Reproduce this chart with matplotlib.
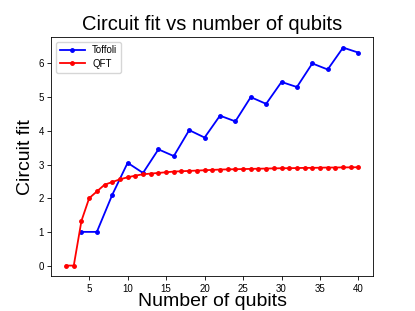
import matplotlib
matplotlib.use("Agg")
import matplotlib.pyplot as plt

plt.rcParams['font.family'] = ['Liberation Sans', 'DejaVu Sans']

# Toffoli circuit fit (even qubit counts)
toffoli_n = [4, 6, 8, 10, 12, 14, 16, 18, 20, 22, 24, 26, 28, 30, 32, 34, 36, 38, 40]
toffoli_fit = [1.0, 1.0, 2.1, 3.05, 2.75, 3.45, 3.25, 4.02, 3.8, 4.45, 4.28,
               5.0, 4.8, 5.45, 5.3, 6.0, 5.82, 6.47, 6.32]

# QFT circuit fit
qft_n = list(range(2, 41))
qft_fit = [0.0, 0.0, 1.33, 2.0, 2.2, 2.4, 2.48, 2.56, 2.62, 2.67, 2.71, 2.73,
           2.75, 2.77, 2.79, 2.80, 2.81, 2.82, 2.83, 2.84, 2.85, 2.855, 2.86,
           2.865, 2.87, 2.875, 2.88, 2.885, 2.89, 2.89, 2.895, 2.90, 2.90,
           2.905, 2.91, 2.91, 2.915, 2.915, 2.92]

fig = plt.figure(figsize=(4.15, 3.11), dpi=100)
ax = fig.add_axes([0.124, 0.111, 0.775, 0.771])

ax.plot(toffoli_n, toffoli_fit, color='blue', marker='o', markersize=2.5, linewidth=1.3, label='Toffoli')
ax.plot(qft_n, qft_fit, color='red', marker='o', markersize=2.5, linewidth=1.3, label='QFT')

ax.set_title('Circuit fit vs number of qubits', fontsize=14.5, pad=5)
ax.set_xlabel('Number of qubits', fontsize=14, labelpad=-1)
ax.set_ylabel('Circuit fit', fontsize=14, labelpad=3)
ax.tick_params(labelsize=7, width=0.6, length=3, pad=2.5)
for s in ax.spines.values():
    s.set_linewidth(0.6)
ax.legend(loc='upper left', fontsize=7, handlelength=2.5, labelspacing=0.35)

fig.savefig('out.png', dpi=100)
